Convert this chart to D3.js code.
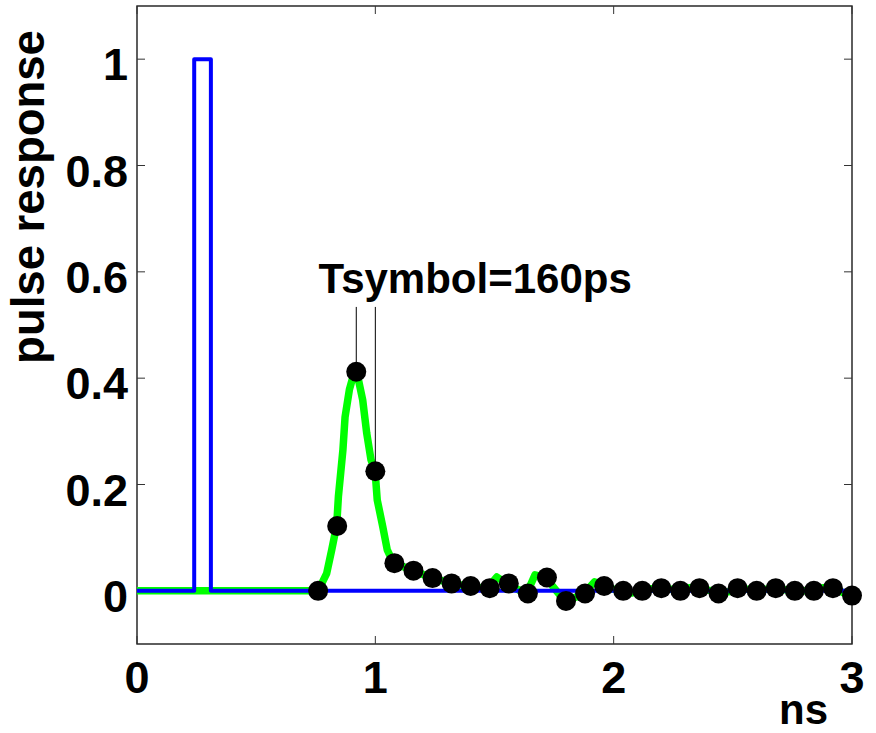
<!DOCTYPE html>
<html>
<head>
<meta charset="utf-8">
<script src="https://cdn.jsdelivr.net/npm/d3@7"></script>
<style>
  html, body { margin: 0; padding: 0; background: #fff; }
  svg { display: block; }
  text { font-family: "Liberation Sans", Arial, sans-serif; font-weight: bold; fill: #000; }
</style>
</head>
<body>
<svg id="chart" width="876" height="733"></svg>
<script>
// ---- data ----
const xTicks = [0, 1, 2, 3];
const yTicks = [0, 0.2, 0.4, 0.6, 0.8, 1];
const yTickLabels = ["0", "0.2", "0.4", "0.6", "0.8", "1"];
const xTickLabels = ["0", "1", "2", "3"];

// input pulse (blue)
const pulseT = [0, 0.24, 0.24, 0.31, 0.31, 3.0];
const pulseV = [0, 0, 1, 1, 0, 0];

// channel pulse response (green)
const respT = [0, 0.76, 0.796, 0.817, 0.838, 0.845, 0.864, 0.873, 0.891, 0.912, 0.93, 0.947, 0.964, 0.982, 0.999, 1.008, 1.031, 1.050, 1.076,
  1.12, 1.154, 1.20, 1.234, 1.28, 1.32, 1.36, 1.40, 1.44, 1.47, 1.51, 1.55, 1.60, 1.635, 1.67, 1.715, 1.76, 1.795, 1.84, 1.875,
  1.92, 1.955, 2.0, 2.035, 2.08, 2.12, 2.16, 2.20, 2.24, 2.28, 2.32, 2.36, 2.40, 2.44, 2.48, 2.52, 2.56, 2.60, 2.64, 2.68, 2.72,
  2.76, 2.80, 2.84, 2.88, 2.92, 2.96, 3.0];
const respV = [0, 0, 0.033, 0.077, 0.124, 0.177, 0.265, 0.327, 0.378, 0.412, 0.395, 0.359, 0.296, 0.246, 0.225, 0.171, 0.121, 0.077, 0.052,
  0.045, 0.038, 0.031, 0.024, 0.019, 0.014, 0.011, 0.009, 0.006, 0.005, 0.026, 0.014, 0.002, -0.005, 0.030, 0.025, 0.0, -0.019, -0.012, -0.005,
  0.017, 0.009, 0.003, 0.0, -0.004, 0.0, 0.004, 0.005, 0.003, 0.0, 0.006, 0.005, 0.001, -0.005, -0.002, 0.005, 0.003, 0.0, 0.003, 0.005, 0.002,
  0.0, 0.0, 0.0, 0.006, 0.005, -0.003, -0.009];

// symbol-spaced samples (black dots)
const sampleT = [0.76, 0.84, 0.92, 1.00, 1.08, 1.16, 1.24, 1.32, 1.40, 1.48, 1.56, 1.64, 1.72, 1.80, 1.88, 1.96,
  2.04, 2.12, 2.20, 2.28, 2.36, 2.44, 2.52, 2.60, 2.68, 2.76, 2.84, 2.92, 3.00];
const sampleV = [0.000, 0.122, 0.412, 0.225, 0.052, 0.038, 0.024, 0.014, 0.009, 0.005, 0.014, -0.005, 0.025, -0.019, -0.005, 0.009,
  0.000, 0.000, 0.005, 0.000, 0.005, -0.005, 0.005, 0.000, 0.005, 0.000, 0.000, 0.005, -0.009];

// annotation
const annText = "Tsymbol=160ps";
const annX = 0.762, annY = 0.56;
const annMarkT = [0.92, 1.00];
const annMarkV = [0.412, 0.225];
const annLineTop = 0.534;

const xLabel = "ns";
const yLabel = "pulse response";

// ---- layout ----
const svg = d3.select("#chart");
const L = 137, R = 852, T = 6, B = 644;
const x = d3.scaleLinear().domain([0, 3]).range([L, R]);
const y = d3.scaleLinear().domain([-0.1, 1.1]).range([B, T]);

// box
svg.append("rect").attr("x", L).attr("y", T).attr("width", R - L).attr("height", B - T)
  .attr("fill", "none").attr("stroke", "#1a1a1a").attr("stroke-width", 1.4);

// ticks (inside, all four sides)
const tickLen = 8;
const tg = svg.append("g").attr("stroke", "#333").attr("stroke-width", 1);
xTicks.forEach(t => {
  tg.append("line").attr("x1", x(t)).attr("x2", x(t)).attr("y1", B).attr("y2", B - tickLen);
  tg.append("line").attr("x1", x(t)).attr("x2", x(t)).attr("y1", T).attr("y2", T + tickLen);
});
yTicks.forEach(t => {
  tg.append("line").attr("x1", L).attr("x2", L + tickLen).attr("y1", y(t)).attr("y2", y(t));
  tg.append("line").attr("x1", R).attr("x2", R - tickLen).attr("y1", y(t)).attr("y2", y(t));
});

// tick labels
xTicks.forEach((t, i) => {
  svg.append("text").attr("x", x(t)).attr("y", 693).attr("text-anchor", "middle")
    .attr("font-size", 45).text(xTickLabels[i]);
});
yTicks.forEach((t, i) => {
  svg.append("text").attr("x", 128).attr("y", y(t) + 21).attr("text-anchor", "end")
    .attr("font-size", 45).text(yTickLabels[i]);
});

// axis labels
svg.append("text").attr("x", 828).attr("y", 724).attr("text-anchor", "end")
  .attr("font-size", 42).text(xLabel);
svg.append("text").attr("transform", "translate(44,197) rotate(-90)").attr("text-anchor", "middle")
  .attr("font-size", 45.5).text(yLabel);

// lines
const line = d3.line().x(d => x(d[0])).y(d => y(d[1]));
svg.append("path").datum(respT.map((t, i) => [t, respV[i]]))
  .attr("d", line).attr("fill", "none").attr("stroke", "#00ff00").attr("stroke-width", 7.5)
  .attr("stroke-linejoin", "round");
svg.append("path").datum(pulseT.map((t, i) => [t, pulseV[i]]))
  .attr("d", line).attr("fill", "none").attr("stroke", "#0000ff").attr("stroke-width", 4)
  .attr("stroke-linejoin", "round");

// annotation lines
annMarkT.forEach((t, i) => {
  svg.append("line").attr("x1", x(t)).attr("x2", x(t)).attr("y1", y(annLineTop)).attr("y2", y(annMarkV[i]))
    .attr("stroke", "#000").attr("stroke-width", 1);
});

// dots
svg.append("g").selectAll("circle").data(sampleT.map((t, i) => [t, sampleV[i]])).join("circle")
  .attr("cx", d => x(d[0])).attr("cy", d => y(d[1])).attr("r", 10).attr("fill", "#000");

// annotation text
svg.append("text").attr("x", x(annX)).attr("y", y(annY)).attr("font-size", 42).text(annText);
</script>
</body>
</html>
